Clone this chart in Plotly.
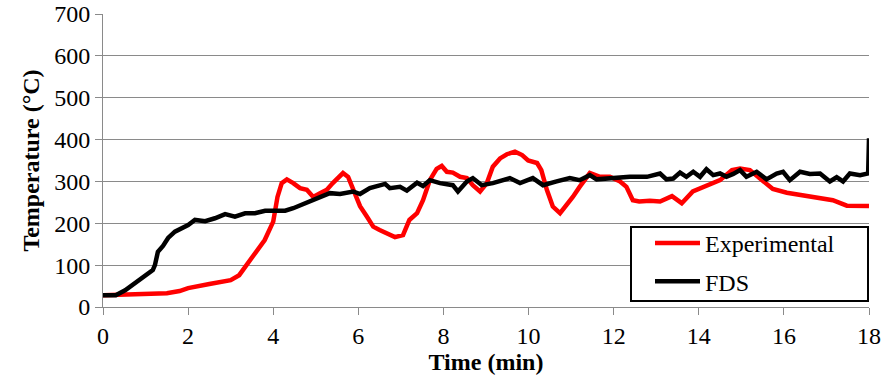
import plotly.graph_objects as go

# Experimental series (time in min, temperature in °C)
t_exp = [0, 0.5, 1.0, 1.5, 1.8, 2.0, 2.5, 3.0, 3.2, 3.5, 3.8, 4.0, 4.1, 4.2, 4.32,
         4.47, 4.63, 4.79, 4.94, 5.1, 5.26, 5.4, 5.64, 5.76, 5.88, 6.04, 6.2, 6.35, 6.5, 6.67,
         6.86, 7.05, 7.2, 7.38, 7.52, 7.68, 7.84, 7.96, 8.08, 8.22, 8.39, 8.55, 8.69, 8.86, 9.02,
         9.16, 9.33, 9.49, 9.68, 9.85, 9.99, 10.2, 10.3, 10.43, 10.57, 10.74, 10.9, 11.04, 11.2, 11.44,
         11.68, 11.91, 12.15, 12.3, 12.45, 12.6, 12.85, 13.09, 13.37, 13.6, 13.86, 14.19, 14.5, 14.78, 14.97,
         15.2, 15.44, 15.6, 15.74, 16.07, 16.38, 16.78, 17.15, 17.48, 18]
T_exp = [28, 29, 30, 33, 38, 45, 55, 64, 76, 117, 160, 204, 263, 296, 305,
         296, 284, 280, 263, 272, 280, 296, 320, 311, 280, 241, 216, 192, 184, 176,
         167, 172, 208, 224, 255, 303, 330, 337, 323, 321, 311, 308, 291, 276, 296,
         335, 355, 365, 371, 363, 350, 344, 327, 280, 240, 224, 244, 263, 287, 320,
         311, 311, 300, 287, 255, 252, 254, 252, 265, 248, 276, 291, 303, 327, 331,
         327, 308, 296, 282, 273, 268, 262, 255, 242, 241]

# FDS series
t_fds = [0, 0.3, 0.52, 0.75, 0.99, 1.17, 1.22, 1.29, 1.41, 1.53, 1.69, 1.86, 2.0, 2.16, 2.4,
         2.63, 2.87, 3.1, 3.34, 3.57, 3.81, 4.04, 4.28, 4.47, 4.86, 5.1, 5.33, 5.57, 5.88, 6.04,
         6.27, 6.63, 6.74, 6.98, 7.14, 7.38, 7.52, 7.68, 7.92, 8.22, 8.34, 8.55, 8.69, 8.9, 9.16,
         9.56, 9.8, 10.1, 10.34, 10.66, 10.97, 11.2, 11.44, 11.6, 11.98, 12.38, 12.78,
         13.09, 13.24, 13.40, 13.56, 13.71, 13.87, 14.03, 14.18, 14.34, 14.50, 14.65, 14.81, 14.97,
         15.12, 15.36, 15.59, 15.83, 15.98, 16.14, 16.38, 16.61, 16.85, 17.0, 17.08, 17.24, 17.39,
         17.55, 17.79, 17.98, 18.0]
T_fds = [28, 28, 40, 57, 72, 88, 100, 132, 146, 165, 180, 188, 196, 208, 205,
         212, 222, 216, 224, 224, 230, 230, 230, 236, 252, 262, 272, 270, 276, 270,
         284, 294, 284, 287, 278, 297, 289, 303, 296, 291, 276, 300, 308, 291, 296,
         308, 296, 308, 291, 300, 308, 303, 315, 305, 308, 311, 311,
         319, 305, 307, 321, 311, 323, 311, 329, 315, 319, 311, 318, 327,
         311, 323, 305, 319, 323, 303, 323, 318, 319, 307, 300, 310, 300,
         319, 315, 319, 403]

x_ticks = [0, 2, 4, 6, 8, 10, 12, 14, 16, 18]
y_ticks = [0, 100, 200, 300, 400, 500, 600, 700]

FONT = "Liberation Serif"
GRID = "#8a8a8a"
FS = 24

fig = go.Figure()
fig.add_trace(go.Scatter(x=t_exp, y=T_exp, mode="lines", name="Experimental",
                         line=dict(color="#ff0000", width=4.5), legendgroup="a"))
fig.add_trace(go.Scatter(x=t_fds, y=T_fds, mode="lines", name="FDS",
                         line=dict(color="#000000", width=4.5), legendgroup="b"))

# legend frame
fig.add_shape(type="rect", xref="paper", yref="paper",
              x0=(631 - 103) / 766, x1=(868 - 103) / 766,
              y0=(307 - 301) / 293, y1=(307 - 227) / 293,
              line=dict(color="black", width=2), fillcolor="white", layer="above")

fig.update_layout(
    width=895, height=379,
    margin=dict(l=103, r=26, t=14, b=72),
    paper_bgcolor="white", plot_bgcolor="white",
    font=dict(family=FONT, size=FS, color="black"),
    showlegend=True,
    legend=dict(x=(650 - 103) / 766, y=(307 - 221) / 293, xanchor="left", yanchor="top",
                bgcolor="rgba(0,0,0,0)", borderwidth=0, traceorder="grouped",
                tracegroupgap=4, itemwidth=45,
                font=dict(family=FONT, size=FS, color="black")),
    xaxis=dict(range=[0, 18], tickvals=x_ticks, ticks="outside", ticklen=7,
               tickcolor=GRID, showline=True, linecolor=GRID, linewidth=1,
               showgrid=False, zeroline=False, automargin=False,
               tickfont=dict(family=FONT, size=FS),
               title=dict(text="<b>Time (min)</b>", font=dict(family=FONT, size=FS), standoff=2)),
    yaxis=dict(range=[0, 700], tickvals=y_ticks, ticks="outside", ticklen=7,
               tickcolor=GRID, showline=True, linecolor=GRID, linewidth=1,
               showgrid=True, gridcolor=GRID, gridwidth=1, zeroline=False, automargin=False,
               ticklabeloverflow="allow",
               tickfont=dict(family=FONT, size=FS),
               title=dict(text="<b>Temperature (°C)</b>", font=dict(family=FONT, size=FS), standoff=7)),
)

# remove the browser's default 8px body margin so the figure fills the window exactly
fig.write_html("out.html", config={"displayModeBar": False},
               post_script="document.body.style.margin='0';")
